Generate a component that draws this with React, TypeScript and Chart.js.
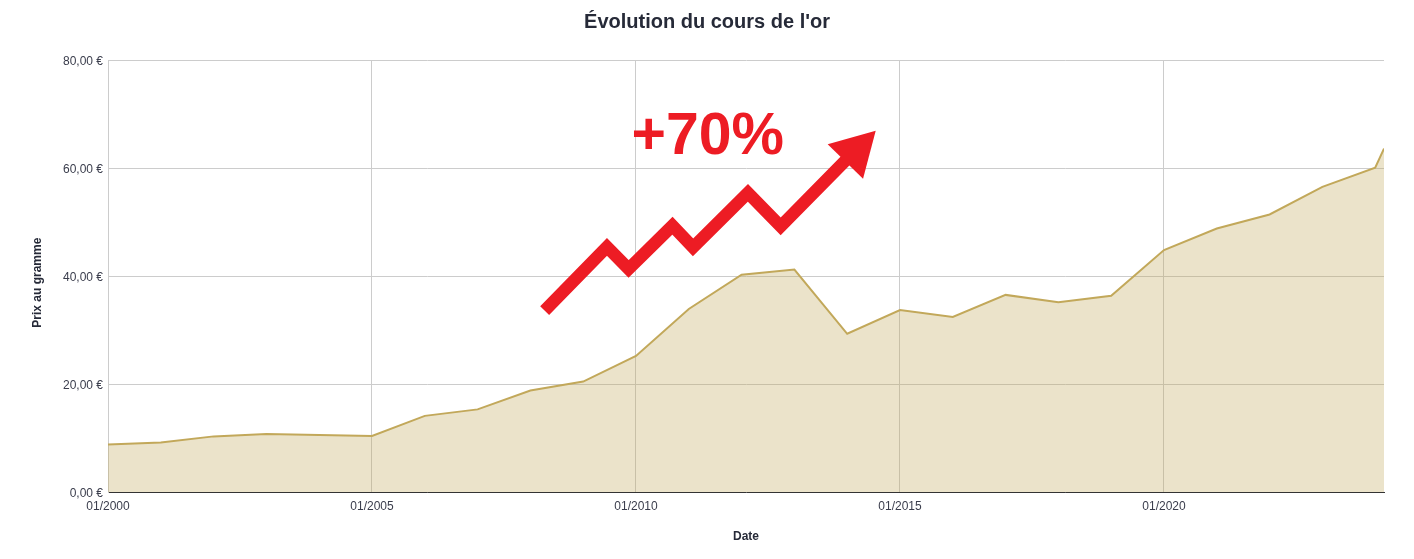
import React, { useEffect, useRef } from "react";
import { Chart, registerables } from "chart.js";

Chart.register(...registerables);

// ---- Data ----
const dates: string[] = [
  "2000-01", "2001-01", "2002-01", "2003-01", "2004-01", "2005-01",
  "2006-01", "2007-01", "2008-01", "2009-01", "2010-01", "2011-01",
  "2012-01", "2013-01", "2014-01", "2015-01", "2016-01", "2017-01",
  "2018-01", "2019-01", "2020-01", "2021-01", "2022-01", "2023-01",
  "2024-01", "2024-03",
];
const prices: number[] = [
  8.8, 9.15, 10.3, 10.75, 10.55, 10.37,
  14.1, 15.3, 18.8, 20.45, 25.2, 33.9,
  40.25, 41.2, 29.3, 33.7, 32.4, 36.5,
  35.15, 36.35, 44.8, 48.8, 51.4, 56.5,
  60.05, 63.6,
];
const yTicks: number[] = [0, 20, 40, 60, 80];
const xTickStep = 5;

// Decorative "+70%" zigzag arrow, in data coordinates (decimal year, price)
const arrowLine: [number, number][] = [
  [2008.27, 33.6], [2009.45, 45.4], [2009.86, 41.3], [2010.69, 49.3],
  [2011.08, 45.3], [2012.12, 55.4], [2012.74, 49.2], [2013.98, 61.5],
];
const arrowHead: [number, number][] = [
  [2013.63, 64.4], [2014.54, 66.9], [2014.30, 58.0],
];
const arrowLabel = "+70%";
const arrowLabelPos: [number, number] = [2011.36, 62.6];

const toYear = (d: string) => {
  const [y, m] = d.split("-").map(Number);
  return y + (m - 1) / 12;
};

const TEXT = "#262a38";
const TICK = "#3a3d4c";
const GRID = "#cccccc";
const RED = "#ED1C24";
const FONT = "'Liberation Sans', Arial, sans-serif";

const arrowPlugin = {
  id: "arrowPlugin",
  afterDatasetsDraw(chart: any) {
    const { ctx, scales } = chart;
    const xs = scales.x;
    const ys = scales.y;
    const px = (p: [number, number]) => [xs.getPixelForValue(p[0]), ys.getPixelForValue(p[1])];
    ctx.save();
    ctx.strokeStyle = RED;
    ctx.fillStyle = RED;
    ctx.lineWidth = 12.5;
    ctx.lineJoin = "miter";
    ctx.miterLimit = 10;
    ctx.lineCap = "butt";
    ctx.beginPath();
    arrowLine.forEach((p, i) => {
      const [x, y] = px(p);
      if (i === 0) ctx.moveTo(x, y);
      else ctx.lineTo(x, y);
    });
    ctx.stroke();
    ctx.beginPath();
    arrowHead.forEach((p, i) => {
      const [x, y] = px(p);
      if (i === 0) ctx.moveTo(x, y);
      else ctx.lineTo(x, y);
    });
    ctx.closePath();
    ctx.fill();
    const [tx, ty] = px(arrowLabelPos);
    ctx.font = `bold 59px ${FONT}`;
    ctx.textAlign = "center";
    ctx.textBaseline = "alphabetic";
    ctx.fillText(arrowLabel, tx, ty);
    ctx.restore();
  },
};

export default function App() {
  const ref = useRef<HTMLCanvasElement | null>(null);

  useEffect(() => {
    if (!ref.current) return;
    const xs = dates.map(toYear);
    const chart = new Chart(ref.current, {
      type: "line",
      data: {
        datasets: [
          {
            label: "Prix au gramme",
            data: xs.map((x, i) => ({ x, y: prices[i] })),
            borderColor: "#C2A85A",
            backgroundColor: "rgba(190,165,85,0.31)",
            borderWidth: 2,
            fill: "origin",
            pointRadius: 0,
            tension: 0,
          },
        ],
      },
      options: {
        animation: false,
        responsive: true,
        maintainAspectRatio: false,
        layout: { padding: { left: 30, right: 30, top: 0, bottom: 0 } },
        plugins: {
          legend: { display: false },
          tooltip: { enabled: false },
          title: {
            display: true,
            text: "Évolution du cours de l'or",
            color: TEXT,
            font: { family: FONT, size: 20, weight: "bold" },
            padding: { top: 10, bottom: 26 },
          },
        },
        scales: {
          x: {
            type: "linear",
            min: xs[0],
            max: xs[xs.length - 1],
            afterFit: (s: any) => { s.height = 67; },
            ticks: {
              stepSize: xTickStep,
              includeBounds: false,
              maxRotation: 0,
              autoSkip: false,
              padding: 7,
              color: TICK,
              font: { family: FONT, size: 12 },
              callback: (v: any) => "01/" + Math.round(Number(v)),
            },
            grid: { color: GRID, drawTicks: false },
            border: { color: "#333333", width: 1 },
            title: {
              display: true,
              text: "Date",
              color: TEXT,
              font: { family: FONT, size: 12, weight: "bold" },
              padding: { top: 0, bottom: 15 },
            },
          },
          y: {
            min: yTicks[0],
            max: yTicks[yTicks.length - 1],
            afterFit: (s: any) => { s.width = 78; },
            afterBuildTicks: (s: any) => { s.ticks = yTicks.map((v) => ({ value: v })); },
            ticks: {
              padding: 5,
              labelOffset: 2,
              color: TICK,
              font: { family: FONT, size: 12 },
              callback: (v: any) => Number(v).toFixed(2).replace(".", ",") + " €",
            },
            grid: { color: GRID, drawTicks: false },
            border: { color: GRID },
            title: {
              display: true,
              text: "Prix au gramme    ",
              color: TEXT,
              font: { family: FONT, size: 12, weight: "bold" },
              padding: { top: 0, bottom: 0 },
            },
          },
        },
      },
      plugins: [arrowPlugin],
    });
    return () => chart.destroy();
  }, []);

  return (
    <div style={{ position: "fixed", left: 0, top: 0, width: 1414, height: 559, background: "#fff" }}>
      <canvas ref={ref} />
    </div>
  );
}
